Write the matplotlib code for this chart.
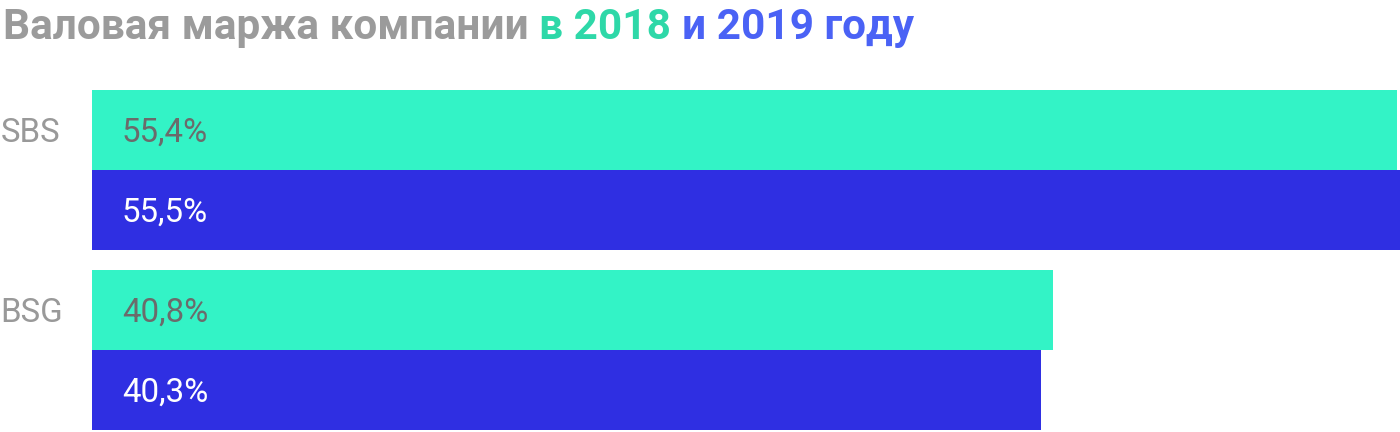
import matplotlib
matplotlib.use("Agg")
import matplotlib.pyplot as plt
import numpy as np

# data
companies = ["SBS", "BSG"]
margin_2018 = [55.4, 40.8]
margin_2019 = [55.5, 40.3]

title_parts = [
    ("Валовая маржа компании ", "#9b9b9b"),
    ("в 2018 ", "#2ed8a8"),
    ("и 2019 году", "#4a62f5"),
]

teal = "#33f3c6"
blue = "#2f2fe2"

plt.rcParams["font.family"] = ["Roboto", "DejaVu Sans"]

W, H = 1400, 432
fig = plt.figure(figsize=(W / 100, H / 100), dpi=100)
ax = fig.add_axes([92 / W, 0, 1 - 92 / W, (H - 80) / H])

pos = np.arange(len(companies))
h = 80 / 180
ax.barh(pos - h / 2, margin_2018, height=h, color=teal, linewidth=0)
ax.barh(pos + h / 2, margin_2019, height=h, color=blue, linewidth=0)

ax.set_xlim(0, 55.52)
ax.set_ylim(1 + 82 / 180, -0.5)
ax.axis("off")

px = 23.56  # pixels per percent
dy = 11.5 / 180  # baseline offset below bar centre
fs = 23.8
for i, name in enumerate(companies):
    ax.text(-92 / px + 0.02, pos[i] - h / 2 + dy, name, va="baseline", ha="left",
            fontsize=fs, color="#999999")
    ax.text(30 / px, pos[i] - h / 2 + dy, f"{margin_2018[i]:.1f}%".replace(".", ","),
            va="baseline", ha="left", fontsize=fs, color="#6b6b6b")
    ax.text(30 / px, pos[i] + h / 2 + dy, f"{margin_2019[i]:.1f}%".replace(".", ","),
            va="baseline", ha="left", fontsize=fs, color="white")
for t in ax.texts:
    t.set_clip_on(False)

# multi-coloured title
renderer = fig.canvas.get_renderer()
x = 3
for txt, col in title_parts:
    t = fig.text(x / W, 1 - 39 / H, txt, fontsize=30.5, fontweight="bold",
                 color=col, ha="left", va="baseline")
    bb = t.get_window_extent(renderer=renderer)
    x = bb.x1

fig.savefig("out.png", dpi=100)
